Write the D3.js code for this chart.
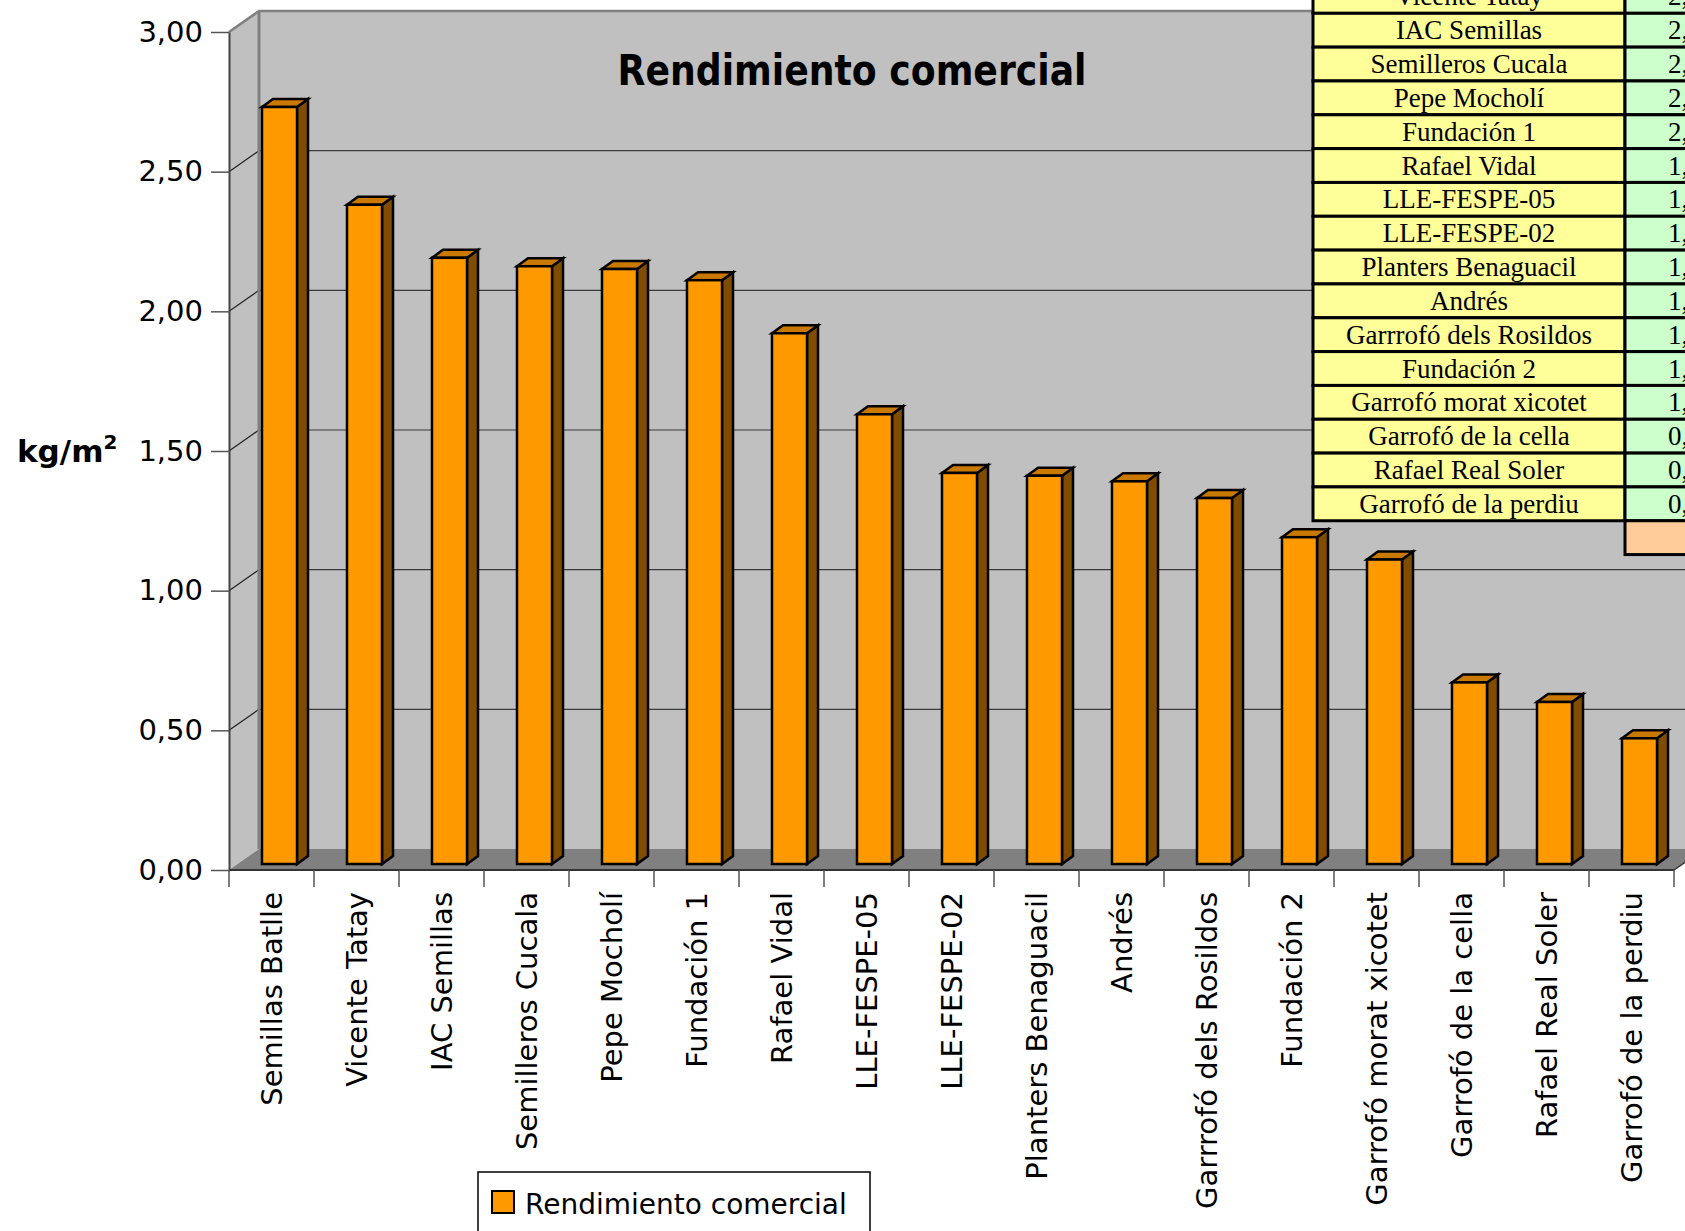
<!DOCTYPE html>
<html><head><meta charset="utf-8">
<script src="https://cdn.jsdelivr.net/npm/d3@7"></script>
<style>body{margin:0;background:#fff;overflow:hidden} svg{display:block}</style>
</head><body>
<svg id="c" width="1685" height="1231"></svg>
<script>
const categories = ["Semillas Batlle","Vicente Tatay","IAC Semillas","Semilleros Cucala","Pepe Mocholí","Fundación 1","Rafael Vidal","LLE-FESPE-05","LLE-FESPE-02","Planters Benaguacil","Andrés","Garrrofó dels Rosildos","Fundación 2","Garrofó morat xicotet","Garrofó de la cella","Rafael Real Soler","Garrofó de la perdiu"];
const values = [2.71, 2.36, 2.17, 2.14, 2.13, 2.09, 1.90, 1.61, 1.40, 1.39, 1.37, 1.31, 1.17, 1.09, 0.65, 0.58, 0.45];
const yTicks = [0, 0.5, 1, 1.5, 2, 2.5, 3];
const seriesName = "Rendimiento comercial";
const titleText = "Rendimiento comercial";
const yTitleMain = "kg/m";
const yTitleSup = "2";

const W = 1685, H = 1231;
const svg = d3.select("#c");
const locale = d3.formatLocale({decimal: ",", thousands: ".", grouping: [3], currency: ["", "€"]});
const fmt = locale.format(".2f");

const x0 = 229, x1 = 1674, yTop = 32, yBot = 870;
const D = {dx: 30, dy: -21};       // wall depth
const B = {dx: 8, dy: -6};         // bar position depth
const BD = {dx: 11, dy: -8};       // bar depth
const y = d3.scaleLinear().domain([0, 3]).range([yBot, yTop]);
const x = d3.scaleBand().domain(categories).range([x0, x1]).paddingInner(0.588).paddingOuter(0.294);
const step = x.step(), bw = x.bandwidth();

const sans = "'Comic Sans MS','DejaVu Sans',sans-serif";

// back wall
svg.append("rect").attr("x", x0 + D.dx).attr("y", yTop + D.dy).attr("width", W).attr("height", yBot - yTop)
  .attr("fill", "#c0c0c0");
// side wall
svg.append("polygon").attr("points", [[x0, yTop], [x0 + D.dx, yTop + D.dy], [x0 + D.dx, yBot + D.dy], [x0, yBot]].join(" "))
  .attr("fill", "#c0c0c0");
// gridlines
const grid = svg.append("g");
yTicks.filter(v => v > 0 && v < 3).forEach(v => {
  grid.append("line").attr("x1", x0 + D.dx).attr("x2", W + 10).attr("y1", y(v) + D.dy).attr("y2", y(v) + D.dy)
    .attr("stroke", "#3a3a3a").attr("stroke-width", 1.2);
  grid.append("line").attr("x1", x0).attr("x2", x0 + D.dx).attr("y1", y(v)).attr("y2", y(v) + D.dy)
    .attr("stroke", "#222").attr("stroke-width", 1.2);
});
// floor
svg.append("polygon").attr("points", [[x0, yBot], [x0 + D.dx, yBot + D.dy], [x1 + D.dx, yBot + D.dy], [x1, yBot]].join(" "))
  .attr("fill", "#808080");
// wall edges
svg.append("polyline").attr("points", [[x0, y(3)], [x0 + D.dx, y(3) + D.dy], [W + 10, y(3) + D.dy]].join(" "))
  .attr("fill", "none").attr("stroke", "#808080").attr("stroke-width", 2.5);
svg.append("line").attr("x1", x0 + D.dx).attr("x2", x0 + D.dx).attr("y1", y(3) + D.dy).attr("y2", yBot + D.dy)
  .attr("stroke", "#808080").attr("stroke-width", 3);
svg.append("line").attr("x1", x1).attr("x2", x1 + D.dx).attr("y1", yBot).attr("y2", yBot + D.dy)
  .attr("stroke", "#333").attr("stroke-width", 1.5);

// y axis
const ya = svg.append("g").attr("transform", `translate(${x0},0)`)
  .call(d3.axisLeft(y).tickValues(yTicks).tickSize(18).tickSizeOuter(0).tickPadding(8).tickFormat(fmt));
ya.select(".domain").attr("stroke", "#444").attr("stroke-width", 2);
ya.selectAll(".tick line").attr("stroke", "#555").attr("stroke-width", 1.5);
ya.selectAll(".tick text").attr("font-family", sans).attr("font-size", 29).attr("fill", "#000");

// x axis baseline & ticks at band boundaries
svg.append("line").attr("x1", x0).attr("x2", x1).attr("y1", yBot).attr("y2", yBot).attr("stroke", "#333").attr("stroke-width", 2);
const xa = svg.append("g").attr("transform", `translate(0,${yBot})`)
  .call(d3.axisBottom(x).tickSize(0).tickSizeOuter(0).tickPadding(0));
xa.select(".domain").remove();
xa.selectAll(".tick text")
  .attr("font-family", sans).attr("font-size", 29).attr("fill", "#000")
  .attr("text-anchor", "end").attr("dy", "0.35em")
  .attr("transform", "translate(0,22) rotate(-90)");
const tickPos = categories.map(c => x(c) - (step - bw) / 2).concat([x1]);
svg.append("g").selectAll("line").data(tickPos).join("line")
  .attr("x1", d => d).attr("x2", d => d).attr("y1", yBot).attr("y2", yBot + 17)
  .attr("stroke", "#555").attr("stroke-width", 1.5);

// bars
const bars = svg.append("g").attr("stroke", "#000").attr("stroke-width", 2.5).attr("stroke-linejoin", "miter");
categories.forEach((c, i) => {
  const v = values[i];
  const bx = x(c) + B.dx, base = y(0) + B.dy, top = y(v) + B.dy;
  const g = bars.append("g");
  g.append("polygon").attr("points", [[bx + bw, top], [bx + bw + BD.dx, top + BD.dy], [bx + bw + BD.dx, base + BD.dy], [bx + bw, base]].join(" "))
    .attr("fill", "#7f4c00");
  g.append("polygon").attr("points", [[bx, top], [bx + BD.dx, top + BD.dy], [bx + bw + BD.dx, top + BD.dy], [bx + bw, top]].join(" "))
    .attr("fill", "#c97800");
  g.append("rect").attr("x", bx).attr("y", top).attr("width", bw).attr("height", base - top).attr("fill", "#ff9900");
});

// title
svg.append("text").attr("x", 852).attr("y", 85).attr("text-anchor", "middle")
  .attr("font-family", sans).attr("font-weight", "bold").attr("font-size", 42)
  .attr("textLength", 469).attr("lengthAdjust", "spacingAndGlyphs").text(titleText);

// y title
const yt = svg.append("text").attr("x", 17).attr("y", 462).attr("font-family", sans)
  .attr("font-weight", "bold").attr("font-size", 31).attr("fill", "#000");
yt.append("tspan").text(yTitleMain);
yt.append("tspan").attr("dy", -13).attr("font-size", 20).text(yTitleSup);

// data table overlay
const tX0 = 1313, tX1 = 1625, tX2 = 1780, rowH = 33.83, row0 = 13.3 - 2 * rowH;
const tbl = svg.append("g");
categories.forEach((c, i) => {
  const top = row0 + i * rowH;
  if (top + rowH < 0) return;
  tbl.append("rect").attr("x", tX0).attr("y", top).attr("width", tX1 - tX0).attr("height", rowH)
    .attr("fill", "#ffff99").attr("stroke", "#000").attr("stroke-width", 3);
  tbl.append("rect").attr("x", tX1).attr("y", top).attr("width", tX2 - tX1).attr("height", rowH)
    .attr("fill", "#ccffcc").attr("stroke", "#000").attr("stroke-width", 3);
  tbl.append("text").attr("x", (tX0 + tX1) / 2).attr("y", top + rowH / 2 + 9).attr("text-anchor", "middle")
    .attr("font-family", "'Liberation Serif','Times New Roman',serif").attr("font-size", 27).text(c);
  tbl.append("text").attr("x", 1668).attr("y", top + rowH / 2 + 9)
    .attr("font-family", "'Liberation Serif','Times New Roman',serif").attr("font-size", 27).text(fmt(values[i]));
});
tbl.append("rect").attr("x", tX1).attr("y", row0 + categories.length * rowH).attr("width", tX2 - tX1).attr("height", rowH)
  .attr("fill", "#ffcc99").attr("stroke", "#000").attr("stroke-width", 3);

// legend
svg.append("rect").attr("x", 478).attr("y", 1172).attr("width", 392).attr("height", 100)
  .attr("fill", "#fff").attr("stroke", "#000").attr("stroke-width", 1.5);
svg.append("rect").attr("x", 492).attr("y", 1191).attr("width", 22).attr("height", 22)
  .attr("fill", "#ff9900").attr("stroke", "#000").attr("stroke-width", 2);
svg.append("text").attr("x", 525).attr("y", 1214).attr("font-family", sans).attr("font-size", 28).text(seriesName);
</script>
</body></html>
